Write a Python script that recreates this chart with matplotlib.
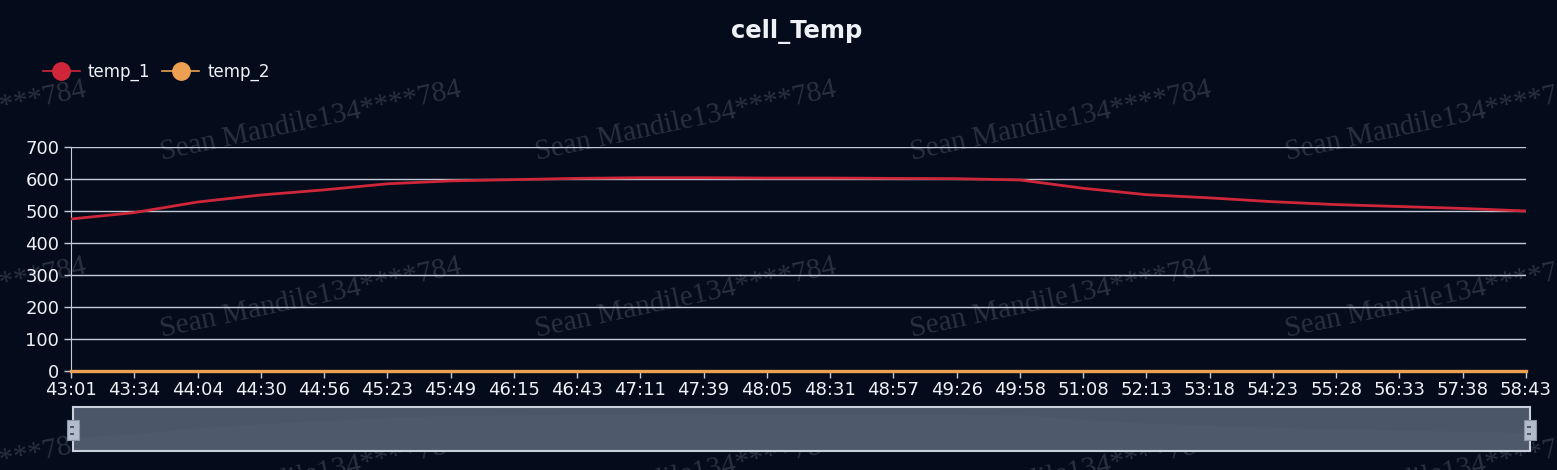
import matplotlib
matplotlib.use('Agg')
import matplotlib.pyplot as plt
from matplotlib.lines import Line2D
from matplotlib.patches import Rectangle

# data
times = ['43:01', '43:34', '44:04', '44:30', '44:56', '45:23', '45:49', '46:15',
         '46:43', '47:11', '47:39', '48:05', '48:31', '48:57', '49:26', '49:58',
         '51:08', '52:13', '53:18', '54:23', '55:28', '56:33', '57:38', '58:43']
temp_1 = [475, 495, 528, 550, 566, 585, 594, 598, 602, 604, 604, 603,
          603, 602, 601, 597, 571, 551, 541, 529, 520, 514, 508, 500]
temp_2 = [0] * len(times)
y_ticks = [0, 100, 200, 300, 400, 500, 600, 700]

BG = '#040b1b'
FG = '#eef1f6'
GRID = '#c3cbd8'
RED = '#cf2639'
ORANGE = '#eda052'
WATERMARK = 'Sean Mandile134****784'

W, H = 1557, 470
fig = plt.figure(figsize=(W / 100, H / 100), dpi=100, facecolor=BG)

# watermark grid, behind everything
for cy in [121, 298, 475]:
    for cx in [-64, 311, 686, 1061, 1436]:
        fig.text(cx / W, 1 - cy / H, WATERMARK, family='Liberation Serif',
                 fontsize=21, color='#9aa0aa', alpha=0.25, rotation=12,
                 rotation_mode='anchor', ha='center', va='center', zorder=-5)

ax = fig.add_axes([71 / W, 1 - 371 / H, (1526 - 71) / W, (371 - 147) / H])
ax.set_facecolor('none')
x = list(range(len(times)))
ax.plot(x, temp_1, color=RED, lw=2.0, zorder=3)
ax.plot(x, temp_2, color=ORANGE, lw=2.4, zorder=3, clip_on=False)

ax.set_xlim(0, len(times) - 1)
ax.set_ylim(0, 700)
ax.set_xticks(x)
ax.set_xticklabels(times)
ax.set_yticks(y_ticks)
ax.grid(axis='y', color=GRID, lw=1.0)
ax.tick_params(colors=GRID, labelcolor=FG, labelsize=13, length=5, width=1)
ax.tick_params(axis='x', pad=2)
for side in ['top', 'right', 'bottom']:
    ax.spines[side].set_visible(False)
ax.spines['left'].set_color(GRID)

fig.text(797 / W, 1 - 32 / H, 'cell_Temp', color=FG, fontsize=17.5,
         fontweight='bold', ha='center', va='center')

handles = [
    Line2D([], [], color=RED, lw=1.2, marker='o', markersize=12.5),
    Line2D([], [], color=ORANGE, lw=1.2, marker='o', markersize=12.5),
]
fig.legend(handles, ['temp_1', 'temp_2'], loc='center left',
           bbox_to_anchor=(28 / W, 1 - 72 / H), ncol=2, frameon=False,
           handlelength=2.2, handletextpad=0.5, columnspacing=0.7,
           fontsize=12, labelcolor=FG)

# data zoom slider
zx0, zx1, zy0, zy1 = 73, 1530, 407, 451
zax = fig.add_axes([zx0 / W, 1 - zy1 / H, (zx1 - zx0) / W, (zy1 - zy0) / H])
zax.set_facecolor('#4b5669')
zax.fill_between(x, temp_1, 400, color='#8090a8', alpha=0.06, lw=0)
zax.set_xlim(0, len(times) - 1)
zax.set_ylim(400, 640)
zax.set_xticks([])
zax.set_yticks([])
for s in zax.spines.values():
    s.set_color('#c8d0dc')
    s.set_linewidth(1.5)

for hx in [zx0, zx1]:
    fig.patches.append(Rectangle(((hx - 6) / W, 1 - 440 / H), 12 / W, 20 / H,
                                 transform=fig.transFigure,
                                 facecolor='#b3bccb', edgecolor='#8b95a6',
                                 lw=0.8, zorder=5))
    for dy in [426, 433]:
        fig.patches.append(Rectangle(((hx - 3) / W, 1 - (dy + 2) / H), 4 / W,
                                     2 / H, transform=fig.transFigure,
                                     facecolor='#4b5669', lw=0, zorder=6))

fig.savefig('out.png', dpi=100, facecolor=BG)
